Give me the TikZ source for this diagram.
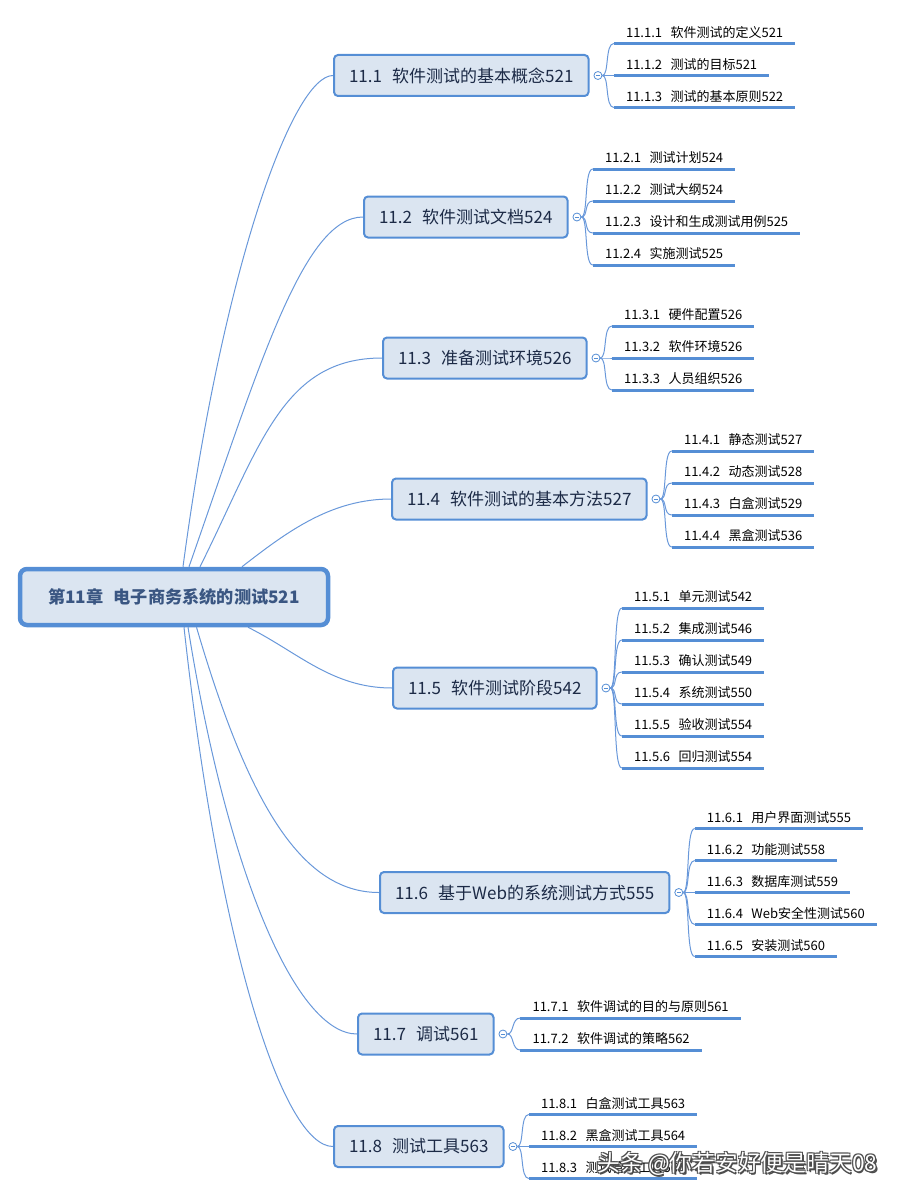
\documentclass[tikz,border=0pt]{standalone}
\usepackage{fontspec}
\setmainfont{Noto Sans CJK SC}
\usetikzlibrary{positioning,backgrounds}

\definecolor{boxfill}{RGB}{219,229,241}
\definecolor{boxline}{RGB}{85,142,213}
\definecolor{curveline}{RGB}{105,152,218}
\definecolor{topictext}{RGB}{28,42,70}
\definecolor{roottext}{RGB}{58,86,130}

\begin{document}
\begin{tikzpicture}[x=1pt,y=-1pt,
    root/.style={draw=boxline,line width=4.5pt,fill=boxfill,rounded corners=7pt,
      minimum width=308pt,minimum height=56pt,text=roottext,
      font=\fontsize{17.2}{20}\selectfont\bfseries},
    topic/.style={draw=boxline,line width=2pt,fill=boxfill,rounded corners=4pt,
      anchor=west,minimum height=41pt,inner xsep=15pt,text=topictext,
      font=\fontsize{17}{20}\selectfont},
    fold/.style={circle,draw=boxline,fill=white,line width=.8pt,minimum size=8pt,
      inner sep=0pt,right=4pt of #1,
      path picture={\draw[boxline,line width=.8pt] (path picture bounding box.west) ++(2,0) -- ++(4,0);}},
    leaf/.style={anchor=south west,inner xsep=12pt,inner ysep=4pt,
      text height=10pt,text depth=2pt,font=\fontsize{13}{15}\selectfont},
    uline/.style={draw=boxline,line width=3pt},
    branch/.style={draw=curveline,line width=1pt},
    twig/.style={draw=curveline,line width=1pt},
    stamp/.style={anchor=east,font=\fontsize{22.8}{27}\selectfont}]

\useasboundingbox (0,0) rectangle (900,1196);

% root and topics
\node[root] (root) at (174,597) {第11章\hspace{.6em}电子商务系统的测试521};

\node[topic] (t1) at (333,75.5) {11.1\hspace{.6em}软件测试的基本概念521};
\node[topic] (t2) at (363,217) {11.2\hspace{.6em}软件测试文档524};
\node[topic] (t3) at (382,358) {11.3\hspace{.6em}准备测试环境526};
\node[topic] (t4) at (391,499) {11.4\hspace{.6em}软件测试的基本方法527};
\node[topic] (t5) at (392,688) {11.5\hspace{.6em}软件测试阶段542};
\node[topic] (t6) at (379,892.5) {11.6\hspace{.6em}基于Web的系统测试方式555};
\node[topic] (t7) at (357,1034) {11.7\hspace{.6em}调试561};
\node[topic] (t8) at (333,1146.5) {11.8\hspace{.6em}测试工具563};

\begin{scope}[on background layer]
\draw[branch] ([xshift=9pt]root.north) .. controls +(40,-300) and +(-40,0) .. (t1.west);
\draw[branch] ([xshift=15pt]root.north) .. controls +(70,-200) and +(-60,0) .. (t2.west);
\draw[branch] ([xshift=26pt]root.north) .. controls +(60,-120) and +(-100,0) .. (t3.west);
\draw[branch] ([xshift=68pt]root.north) .. controls +(45,-35) and +(-60,0) .. (t4.west);
\draw[branch] ([xshift=74pt]root.south) .. controls +(50,25) and +(-60,0) .. (t5.west);
\draw[branch] ([xshift=22.5pt]root.south) .. controls +(50,170) and +(-80,0) .. (t6.west);
\draw[branch] ([xshift=14pt]root.south) .. controls +(40,250) and +(-60,0) .. (t7.west);
\draw[branch] ([xshift=10pt]root.south) .. controls +(35,320) and +(-50,0) .. (t8.west);
\end{scope}

\foreach \t in {1,...,8}
  \node[fold=t\t] (f\t) {};

% subtopics
\foreach \num/\txt [count=\i] in {11.1.1/软件测试的定义521,11.1.2/测试的目标521,11.1.3/测试的基本原则522}{
  \path (f1.east) ++(11.5,{(\i-2)*32}) node[leaf] (l1-\i) {\num\hspace{.65em}\txt};
  \draw[uline] (l1-\i.south west) -- (l1-\i.south east);
  \draw[twig] (f1.east) .. controls +(7,0) and +(-9,0) .. (l1-\i.south west);
}
\foreach \num/\txt [count=\i] in {11.2.1/测试计划524,11.2.2/测试大纲524,11.2.3/设计和生成测试用例525,11.2.4/实施测试525}{
  \path (f2.east) ++(11.5,{(\i-2.5)*32}) node[leaf] (l2-\i) {\num\hspace{.65em}\txt};
  \draw[uline] (l2-\i.south west) -- (l2-\i.south east);
  \draw[twig] (f2.east) .. controls +(7,0) and +(-9,0) .. (l2-\i.south west);
}
\foreach \num/\txt [count=\i] in {11.3.1/硬件配置526,11.3.2/软件环境526,11.3.3/人员组织526}{
  \path (f3.east) ++(11.5,{(\i-2)*32}) node[leaf] (l3-\i) {\num\hspace{.65em}\txt};
  \draw[uline] (l3-\i.south west) -- (l3-\i.south east);
  \draw[twig] (f3.east) .. controls +(7,0) and +(-9,0) .. (l3-\i.south west);
}
\foreach \num/\txt [count=\i] in {11.4.1/静态测试527,11.4.2/动态测试528,11.4.3/白盒测试529,11.4.4/黑盒测试536}{
  \path (f4.east) ++(11.5,{(\i-2.5)*32}) node[leaf] (l4-\i) {\num\hspace{.65em}\txt};
  \draw[uline] (l4-\i.south west) -- (l4-\i.south east);
  \draw[twig] (f4.east) .. controls +(7,0) and +(-9,0) .. (l4-\i.south west);
}
\foreach \num/\txt [count=\i] in {11.5.1/单元测试542,11.5.2/集成测试546,11.5.3/确认测试549,11.5.4/系统测试550,11.5.5/验收测试554,11.5.6/回归测试554}{
  \path (f5.east) ++(11.5,{(\i-3.5)*32}) node[leaf] (l5-\i) {\num\hspace{.65em}\txt};
  \draw[uline] (l5-\i.south west) -- (l5-\i.south east);
  \draw[twig] (f5.east) .. controls +(7,0) and +(-9,0) .. (l5-\i.south west);
}
\foreach \num/\txt [count=\i] in {11.6.1/用户界面测试555,11.6.2/功能测试558,11.6.3/数据库测试559,11.6.4/Web安全性测试560,11.6.5/安装测试560}{
  \path (f6.east) ++(11.5,{(\i-3)*32}) node[leaf] (l6-\i) {\num\hspace{.65em}\txt};
  \draw[uline] (l6-\i.south west) -- (l6-\i.south east);
  \draw[twig] (f6.east) .. controls +(7,0) and +(-9,0) .. (l6-\i.south west);
}
\foreach \num/\txt [count=\i] in {11.7.1/软件调试的目的与原则561,11.7.2/软件调试的策略562}{
  \path (f7.east) ++(13,{(\i-1.5)*32}) node[leaf] (l7-\i) {\num\hspace{.65em}\txt};
  \draw[uline] (l7-\i.south west) -- (l7-\i.south east);
  \draw[twig] (f7.east) .. controls +(7,0) and +(-9,0) .. (l7-\i.south west);
}
\foreach \num/\txt [count=\i] in {11.8.1/白盒测试工具563,11.8.2/黑盒测试工具564,11.8.3/测试管理工具565}{
  \path (f8.east) ++(11.5,{(\i-2)*32}) node[leaf] (l8-\i) {\num\hspace{.65em}\txt};
  \draw[uline] (l8-\i.south west) -- (l8-\i.south east);
  \draw[twig] (f8.east) .. controls +(7,0) and +(-9,0) .. (l8-\i.south west);
}

% watermark
\foreach \dx/\dy [count=\k] in {1/1,-1/1,1/-1,-1/-1,1.5/1.5}
  \node[stamp,text=black!70] (stamp-\k) at (881+\dx,1164+\dy) {头条 @你若安好便是晴天08};
\node[stamp,text=white] (stamp) at (881,1164) {头条 @你若安好便是晴天08};
\end{tikzpicture}
\end{document}
